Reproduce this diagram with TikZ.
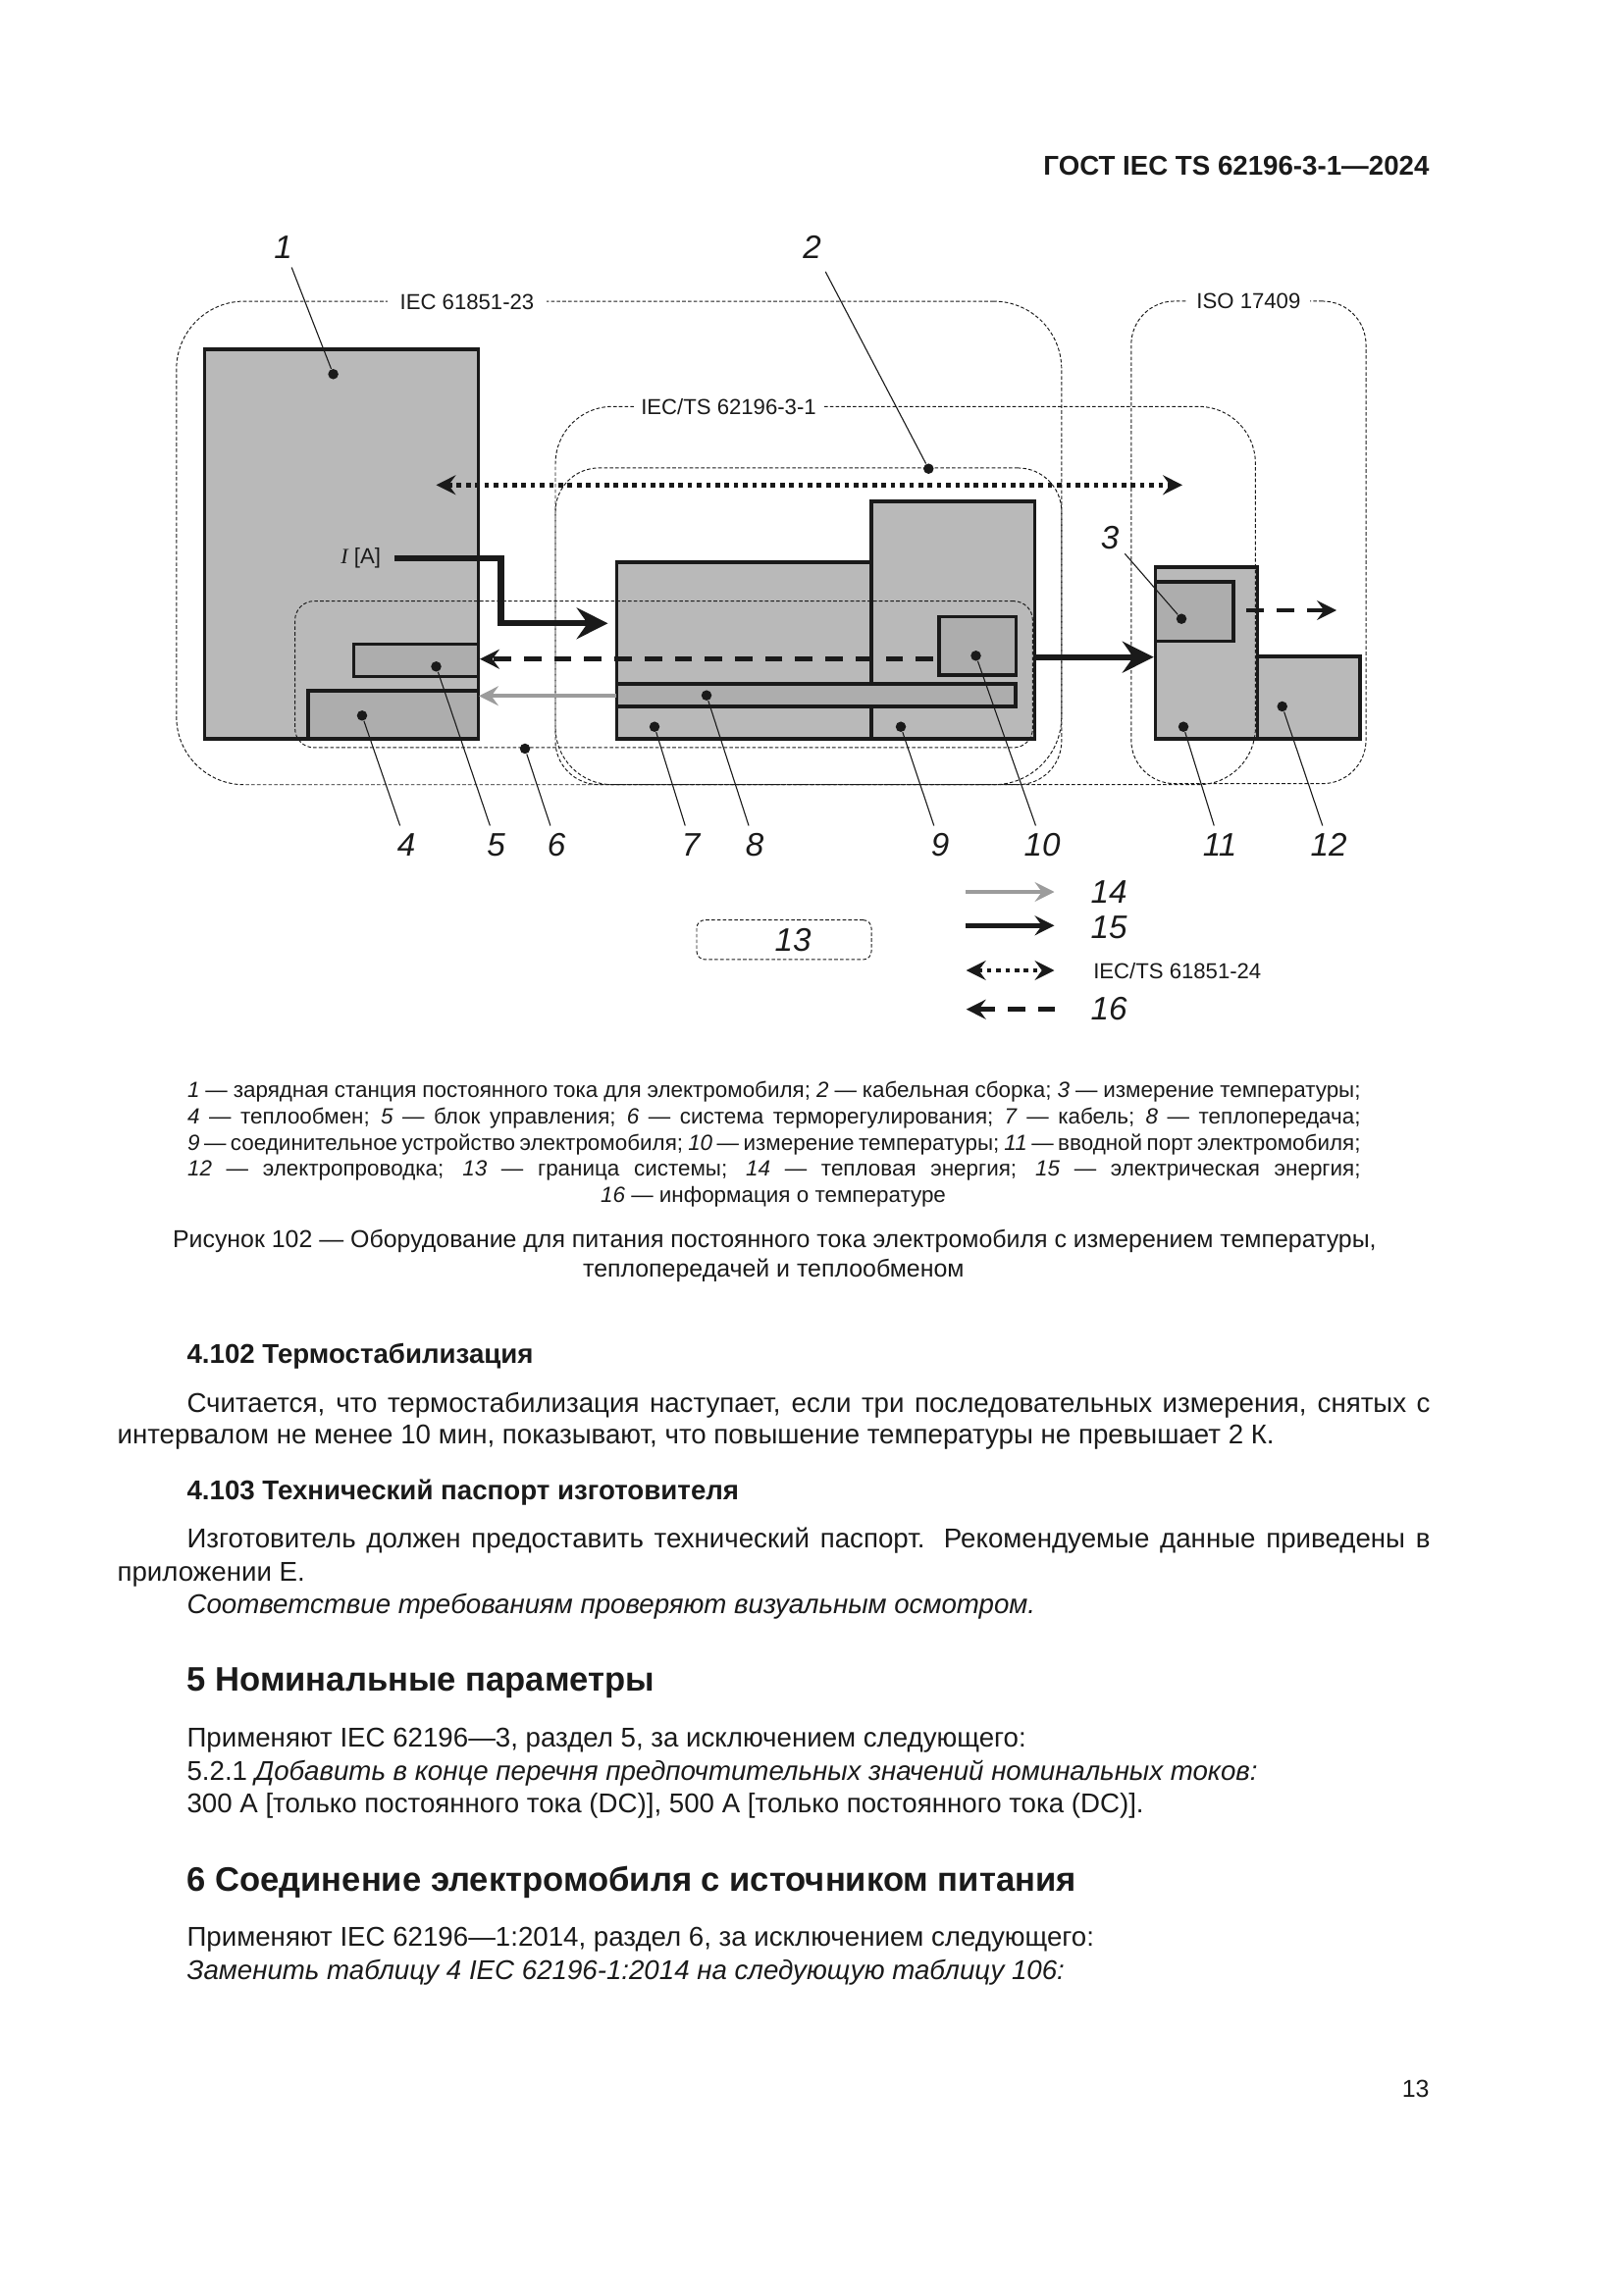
\documentclass[tikz,border=0pt]{standalone}
\usepackage{fontspec}
\setmainfont{Liberation Sans}
\newfontfamily\serifI{Liberation Serif}
\usetikzlibrary{arrows.meta}
\newlength\pxu
\setlength\pxu{0.127mm}
\newcommand{\jline}[2]{\makebox[#1\pxu][s]{#2}}
\definecolor{boxgray}{HTML}{B9B9B9}
\definecolor{innergray}{HTML}{ADADAD}
\definecolor{heatgray}{HTML}{9C9C9C}
\definecolor{inkblack}{HTML}{1A1A1A}
\tikzset{
    sized/.style 2 args={minimum width=#1*\pxu, minimum height=#2*\pxu, inner sep=0pt},
    unit/.style={draw=inkblack, line width=1.15pt, fill=boxgray, rectangle},
    inner unit/.style={unit, fill=innergray},
    zone/.style={draw=inkblack, line width=0.35pt, dash pattern=on 1.3pt off 0.8pt, rectangle},
    zonetext/.style={fill=white, inner sep=0pt, font=\fontsize{8}{10}\selectfont, text=inkblack},
    numlabel/.style={font=\fontsize{12}{14}\itshape, text=inkblack, text height=9pt, text depth=0pt, inner sep=2pt},
    dotmark/.style={circle, fill=inkblack, inner sep=0pt, minimum size=3.8pt},
    leader/.style={inkblack, line width=0.4pt},
    heatflow/.style={heatgray, line width=1.5pt, -{Stealth[length=7.2pt, width=7.2pt, inset=2.6pt]}},
    powerthin/.style={inkblack, line width=1.8pt, -{Stealth[length=7.2pt, width=7.2pt, inset=2.6pt]}},
    powerflow/.style={inkblack, line width=2.2pt, miter limit=10, -{Stealth[length=11.5pt, width=11.5pt, inset=4pt]}},
    dataflow/.style={inkblack, line width=1.7pt, dash pattern=on 1.7pt off 1.7pt, {Stealth[length=7.2pt, width=7.2pt, inset=2.6pt]}-{Stealth[length=7.2pt, width=7.2pt, inset=2.6pt]}},
    tempflow/.style={inkblack, line width=1.8pt, dash pattern=on 6.4pt off 4.7pt, -{Stealth[length=7.2pt, width=7.2pt, inset=2.6pt]}},
    keyline/.style={anchor=west, inner sep=0pt, text=inkblack, font=\fontsize{8.1}{10}\selectfont, text height=7.1pt, text depth=2pt},
    capline/.style={inner sep=0pt, text=inkblack, font=\fontsize{9}{11}\selectfont, text height=8.1pt, text depth=2pt},
    bodyline/.style={anchor=west, inner sep=0pt, text=inkblack, font=\fontsize{10}{12}\selectfont, text height=9.5pt, text depth=2pt},
    headline/.style={bodyline, font=\fontsize{10}{12}\bfseries},
    bigheadline/.style={bodyline, font=\fontsize{12.5}{14}\bfseries, text height=11.2pt}
}
\begin{document}
\begin{tikzpicture}[x=\pxu, y=-\pxu]
        \useasboundingbox (-1,0) rectangle (1653,2339);
        \node[headline, anchor=east, font=\fontsize{10}{12}\bfseries] (header) at (1456,168.5) {ГОСТ IEC TS 62196-3-1—2024};

        \node[unit, sized={278.5}{397}] (station) at (347,554.5) {};
        \node[inner unit, sized={126.8}{33}] (control) at (422.9,673.2) {};
        \node[inner unit, sized={173.3}{49}] (exchanger) at (399.6,728.5) {};
        \node[unit, sized={259.6}{180}] (cable) at (757.2,663) {};
        \node[unit, sized={166.5}{242}] (connector) at (970.2,632) {};
        \node[inner unit, sized={406.6}{23}] (transfer) at (830.7,708.5) {};
        \node[inner unit, sized={78.7}{59.3}] (tempB) at (995.3,658.3) {};
        \node[unit, sized={103.7}{175}] (inlet) at (1228.5,665.5) {};
        \node[inner unit, sized={79.3}{60.7}] (tempA) at (1216.3,623.3) {};
        \node[unit, sized={104.6}{84}] (wiring) at (1332.7,711) {};

        \node[zone, sized={902}{492.7}, rounded corners=25pt] (zoneA) at (629.8,553.4) {};
        \node[zone, sized={713.4}{385.4}, rounded corners=21pt] (zoneB) at (921.7,607) {};
        \node[zone, sized={515.8}{322.7}, rounded corners=16pt] (assembly) at (822.9,638.3) {};
        \node[zone, sized={751.7}{149.3}, rounded corners=7pt] (thermal) at (675.5,687.3) {};
        \node[zone, sized={239.2}{491.7}, rounded corners=16pt] (zoneC) at (1271.4,552.8) {};
        \node[zone, sized={178}{40.3}, rounded corners=3pt] (limit) at (798,957.8) {};

        \node[zonetext, minimum width=162*\pxu] (textA) at (475,307.7) {IEC 61851-23};
        \node[zonetext, minimum width=194*\pxu] (textB) at (741.5,414.5) {IEC/TS 62196-3-1};
        \node[zonetext, minimum width=125*\pxu] (textC) at (1271.4,307) {ISO 17409};
        \node[inner sep=0pt, font=\fontsize{8}{10}\selectfont, text=inkblack] (current) at (366.7,569) {{\serifI\itshape I} [A]};

        \coordinate (powA) at (401,568.7);
        \coordinate (powB) at (509.5,568.7);
        \coordinate (powC) at (509.5,635.3);
        \coordinate (powD) at (618.5,635.3);
        \coordinate (outA) at (1054,669.7);
        \coordinate (outB) at (1174.7,669.7);
        \coordinate (dataA) at (443.5,494.3);
        \coordinate (dataB) at (1204,494.3);
        \coordinate (tempC) at (950,671.7);
        \coordinate (tempD) at (488,671.7);
        \coordinate (tempE) at (1269.4,622);
        \coordinate (tempF) at (1361,622);
        \coordinate (heatA) at (627,709.3);
        \coordinate (heatB) at (487,709.3);
        \draw[powerflow] (powA) -- (powB) -- (powC) -- (powD);
        \draw[powerflow] (outA) -- (outB);
        \draw[dataflow] (dataA) -- (dataB);
        \draw[tempflow] (tempC) -- (tempD);
        \draw[tempflow] (tempE) -- (tempF);
        \draw[heatflow] (heatA) -- (heatB);

        \node[numlabel, inner sep=3.2pt] (n1) at (287.7,250.7) {1};
        \node[numlabel, inner sep=4.8pt] (n2) at (826.5,250.7) {2};
        \node[numlabel] (n3) at (1130,546.7) {3};
        \node[numlabel] (n4) at (413,860) {4};
        \node[numlabel] (n5) at (504.6,860) {5};
        \node[numlabel] (n6) at (566,860) {6};
        \node[numlabel] (n7) at (703,860) {7};
        \node[numlabel] (n8) at (768,860) {8};
        \node[numlabel] (n9) at (957,860) {9};
        \node[numlabel] (n10) at (1061,860) {10};
        \node[numlabel] (n11) at (1242,860) {11};
        \node[numlabel] (n12) at (1353,860) {12};
        \node[numlabel] (n13) at (807,957) {13};
        \node[dotmark] (d1) at (338.6,381.3) {};
        \node[dotmark] (d2) at (945.3,477.7) {};
        \node[dotmark] (d3) at (1203,630.7) {};
        \node[dotmark] (d4) at (368,729.3) {};
        \node[dotmark] (d5) at (443.5,679.3) {};
        \node[dotmark] (d6) at (534,763) {};
        \node[dotmark] (d7) at (666,740.7) {};
        \node[dotmark] (d8) at (719,708.7) {};
        \node[dotmark] (d9) at (917,740.7) {};
        \node[dotmark] (d10) at (993.5,668.3) {};
        \node[dotmark] (d11) at (1205,740.7) {};
        \node[dotmark] (d12) at (1305.7,720) {};
        \draw[leader] (n1) -- (d1);
        \draw[leader] (n2) -- (d2);
        \draw[leader] (n3) -- (d3);
        \draw[leader] (n4) -- (d4);
        \draw[leader] (n5) -- (d5);
        \draw[leader] (n6) -- (d6);
        \draw[leader] (n7) -- (d7);
        \draw[leader] (n8) -- (d8);
        \draw[leader] (n9) -- (d9);
        \draw[leader] (n10) -- (d10);
        \draw[leader] (n11) -- (d11);
        \draw[leader] (n12) -- (d12);

        \coordinate (legA) at (983,909);
        \coordinate (legB) at (1073.5,909);
        \coordinate (legC) at (983,943.3);
        \coordinate (legD) at (1073.5,943.3);
        \coordinate (legE) at (983.7,989);
        \coordinate (legF) at (1073.5,989);
        \coordinate (legG) at (1074.3,1028.7);
        \coordinate (legH) at (983.7,1028.7);
        \draw[heatflow] (legA) -- (legB);
        \draw[powerthin] (legC) -- (legD);
        \draw[dataflow] (legE) -- (legF);
        \draw[tempflow] (legG) -- (legH);
        \node[numlabel] (n14) at (1129,908) {14};
        \node[numlabel] (n15) at (1129,944) {15};
        \node[anchor=west, inner sep=0pt, font=\fontsize{8}{10}\selectfont, text=inkblack] (legtext) at (1112.7,990) {IEC/TS 61851-24};
        \node[numlabel] (n16) at (1129,1027) {16};

        \node[keyline] (key1) at (189.5,1111.7) {\jline{1195.5}{\textit{1} — зарядная станция постоянного тока для электромобиля; \textit{2} — кабельная сборка; \textit{3} — измерение температуры;}};
        \node[keyline] (key2) at (189.5,1138) {\jline{1195.5}{\textit{4} — теплообмен; \textit{5} — блок управления; \textit{6} — система терморегулирования; \textit{7} — кабель; \textit{8} — теплопередача;}};
        \node[keyline] (key3) at (189.5,1165) {\jline{1195.5}{\textit{9} — соединительное устройство электромобиля; \textit{10} — измерение температуры; \textit{11} — вводной порт электромобиля;}};
        \node[keyline] (key4) at (189.5,1191) {\jline{1195.5}{\textit{12} — электропроводка; \textit{13} — граница системы; \textit{14} — тепловая энергия; \textit{15} — электрическая энергия;}};
        \node[keyline, anchor=center] (key5) at (787,1218) {\textit{16} — информация о температуре};
        \node[capline] (cap1) at (788.3,1262.7) {Рисунок 102 — Оборудование для питания постоянного тока электромобиля с измерением температуры,};
        \node[capline] (cap2) at (787.3,1293) {теплопередачей и теплообменом};

        \node[headline] (h1) at (189,1379.6) {4.102 Термостабилизация};
        \node[bodyline] (p1) at (189,1428.8) {\jline{1267}{Считается, что термостабилизация наступает, если три последовательных измерения, снятых с}};
        \node[bodyline] (p2) at (118,1461.5) {интервалом не менее 10 мин, показывают, что повышение температуры не превышает 2 К.};
        \node[headline] (h2) at (189,1518) {4.103 Технический паспорт изготовителя};
        \node[bodyline] (p3) at (189,1567) {\jline{1267}{Изготовитель должен предоставить технический паспорт. Рекомендуемые данные приведены в}};
        \node[bodyline] (p4) at (118,1601.5) {приложении Е.};
        \node[bodyline] (p5) at (189,1634.6) {\textit{Соответствие требованиям проверяют визуальным осмотром.}};
        \node[bigheadline] (h3) at (189,1710.6) {5 Номинальные параметры};
        \node[bodyline] (p6) at (189,1770) {Применяют IEC 62196—3, раздел 5, за исключением следующего:};
        \node[bodyline] (p7) at (189,1804.6) {5.2.1 \textit{Добавить в конце перечня предпочтительных значений номинальных токов:}};
        \node[bodyline] (p8) at (189,1837) {300 А [только постоянного тока (DC)], 500 А [только постоянного тока (DC)].};
        \node[bigheadline] (h4) at (189,1915) {6 Соединение электромобиля с источником питания};
        \node[bodyline] (p9) at (189,1973) {Применяют IEC 62196—1:2014, раздел 6, за исключением следующего:};
        \node[bodyline] (p10) at (189,2007) {\textit{Заменить таблицу 4 IEC 62196-1:2014 на следующую таблицу 106:}};
        \node[bodyline, anchor=east, font=\fontsize{9}{11}\selectfont] (pageno) at (1456,2127) {13};
    \end{tikzpicture}
\end{document}
